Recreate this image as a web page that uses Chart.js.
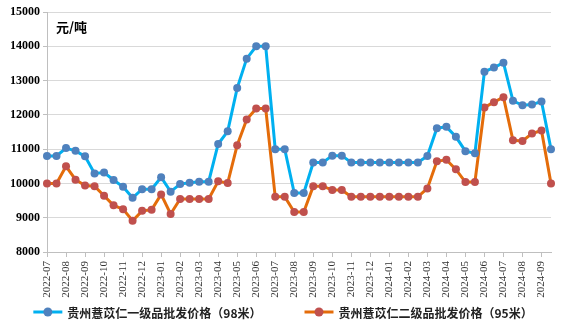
<!DOCTYPE html>
<html>
<head>
<meta charset="utf-8">
<script src="https://cdn.jsdelivr.net/npm/chart.js@4.4.1/dist/chart.umd.min.js"></script>
<style>
  html, body { margin: 0; padding: 0; background: #fff; }
  #wrap { width: 573px; height: 329px; position: relative; }
</style>
</head>
<body>
<div id="wrap"><canvas id="price-chart"></canvas></div>
<script>
// Month labels on the x axis; each month has two readings (first and second half)
const months = [
    '2022-07', '2022-08', '2022-09', '2022-10', '2022-11', '2022-12',
    '2023-01', '2023-02', '2023-03', '2023-04', '2023-05', '2023-06',
    '2023-07', '2023-08', '2023-09', '2023-10', '2023-11', '2023-12',
    '2024-01', '2024-02', '2024-03', '2024-04', '2024-05', '2024-06',
    '2024-07', '2024-08', '2024-09'
];

const seriesNames = ['贵州薏苡仁一级品批发价格（98米）', '贵州薏苡仁二级品批发价格（95米）'];

// 一级品 (98米), yuan per ton
const grade1Prices = [
    10800, 10800, 11030, 10950, 10790, 10290, 10320, 10100, 9900, 9580,
    9830, 9830, 10180, 9760, 9980, 10020, 10050, 10050, 11150, 11520,
    12780, 13640, 14000, 14000, 11000, 11000, 9720, 9720, 10610, 10610,
    10810, 10810, 10610, 10610, 10610, 10610, 10610, 10610, 10610, 10610,
    10800, 11610, 11650, 11360, 10940, 10880, 13260, 13380, 13520, 12410,
    12280, 12300, 12390, 11000
];

// 二级品 (95米), yuan per ton
const grade2Prices = [
    10000, 10000, 10500, 10110, 9940, 9920, 9640, 9360, 9250, 8910,
    9200, 9230, 9680, 9110, 9545, 9545, 9545, 9545, 10060, 10010,
    11115, 11865, 12185, 12185, 9610, 9610, 9165, 9165, 9920, 9920,
    9805, 9805, 9610, 9610, 9610, 9610, 9610, 9610, 9610, 9610,
    9855, 10645, 10690, 10410, 10040, 10040, 12215, 12370, 12515, 11260,
    11240, 11455, 11545, 10000
];

const yMin = 8000;
const yMax = 15000;
const yStep = 1000;
const unitLabel = '元/吨';

// two periods per month, the label is only shown on the first one
const periods = months.flatMap(m => [m, m + ' 下']);

const blueLine = '#00B0F0';
const blueDot = '#4F81BD';
const orangeLine = '#E46C0A';
const orangeDot = '#C0504D';
const axisGrey = '#BFBFBF';

// unit text in the top-left corner and the legend row under the axis
const extrasPlugin = {
    id: 'extras',
    afterDraw(chart) {
        const ctx = chart.ctx;
        const area = chart.chartArea;
        ctx.save();
        ctx.fillStyle = '#000';
        ctx.font = 'bold 13px "Noto Sans CJK SC"';
        ctx.textBaseline = 'middle';
        ctx.textAlign = 'left';
        ctx.fillText(unitLabel, area.left + 9, 27);

        ctx.font = 'bold 12px "Noto Sans CJK SC"';
        const symW = 29, symGap = 5, itemGap = 43;
        const items = chart.data.datasets.map(ds => ({ ds, w: symW + symGap + ctx.measureText(ds.label).width }));
        const total = items.reduce((s, it) => s + it.w, 0) + itemGap * (items.length - 1);
        let x = 283 - total / 2;
        const y = 312;
        items.forEach(({ ds, w }) => {
            ctx.strokeStyle = ds.borderColor;
            ctx.lineWidth = 3;
            ctx.beginPath();
            ctx.moveTo(x, y);
            ctx.lineTo(x + symW, y);
            ctx.stroke();
            ctx.fillStyle = ds.pointBackgroundColor;
            ctx.beginPath();
            ctx.arc(x + symW / 2, y, 4.5, 0, Math.PI * 2);
            ctx.fill();
            ctx.fillStyle = '#222';
            ctx.fillText(ds.label, x + symW + symGap, y + 1);
            x += w + itemGap;
        });
        ctx.restore();
    }
};

new Chart(document.getElementById('price-chart'), {
    type: 'line',
    data: {
        labels: periods,
        datasets: [
            {
                label: seriesNames[0],
                data: grade1Prices,
                borderColor: blueLine,
                backgroundColor: blueLine,
                pointBackgroundColor: blueDot,
                pointBorderColor: blueDot,
                borderWidth: 3,
                pointRadius: 4,
                pointBorderWidth: 0,
                tension: 0
            },
            {
                label: seriesNames[1],
                data: grade2Prices,
                borderColor: orangeLine,
                backgroundColor: orangeLine,
                pointBackgroundColor: orangeDot,
                pointBorderColor: orangeDot,
                borderWidth: 3,
                pointRadius: 4,
                pointBorderWidth: 0,
                tension: 0
            }
        ]
    },
    options: {
        responsive: true,
        maintainAspectRatio: false,
        animation: false,
        layout: { padding: { left: 0, right: 22, top: 12, bottom: 0 } },
        plugins: {
            legend: { display: false },
            tooltip: { enabled: false }
        },
        scales: {
            x: {
                offset: false,
                border: { color: axisGrey },
                grid: { drawOnChartArea: false, tickLength: 5, color: axisGrey },
                ticks: {
                    autoSkip: false,
                    minRotation: 90,
                    maxRotation: 90,
                    padding: 4,
                    color: '#333',
                    font: { family: '"Liberation Serif"', size: 11 },
                    callback: (val, i) => (i % 2 === 0 ? months[i / 2] : null)
                },
                afterFit: scale => { scale.height = 77; }
            },
            y: {
                min: yMin,
                max: yMax,
                border: { color: axisGrey },
                grid: { color: '#D9D9D9', tickLength: 4, tickColor: axisGrey },
                ticks: {
                    stepSize: yStep,
                    padding: 3,
                    color: '#000',
                    font: { family: '"Liberation Serif"', size: 12, weight: 'bold' },
                    callback: v => String(v)
                },
                afterFit: scale => { scale.width = 47; }
            }
        }
    },
    plugins: [extrasPlugin]
});
</script>
</body>
</html>
